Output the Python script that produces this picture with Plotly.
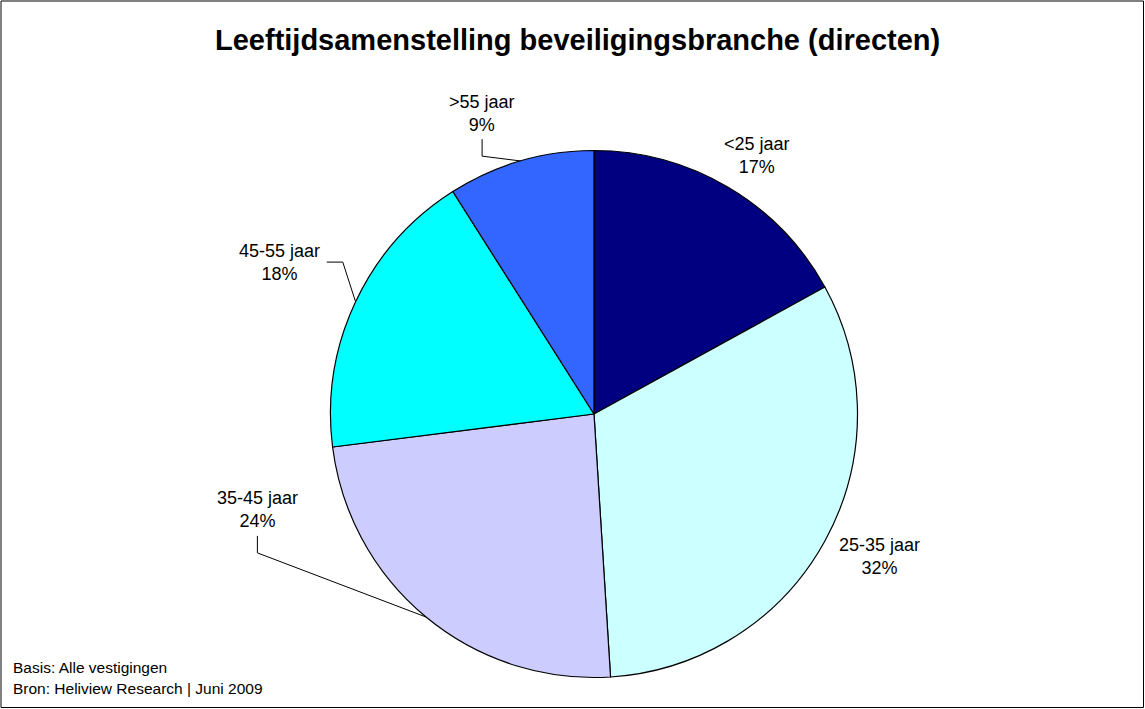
import math
import plotly.graph_objects as go

# ---- data ----
categories = ["<25 jaar", "25-35 jaar", "35-45 jaar", "45-55 jaar", ">55 jaar"]
values = [17, 32, 24, 18, 9]
title_text = "Leeftijdsamenstelling beveiligingsbranche (directen)"
footnotes = ["Basis: Alle vestigingen", "Bron: Heliview Research | Juni 2009"]

# ---- style ----
colors = ["#000080", "#CCFFFF", "#CCCCFF", "#00FFFF", "#3366FF"]
W, H = 1145, 709
CX, CY, R = 594, 414, 263.5           # pie centre / radius in pixels
# label placement: (distance from centre px, angle offset from slice middle deg, leader style)
label_place = [(306, 1.6, None), (319, -2.2, None), (350, 34.5, "below"),
               (349, 0.6, "right"), (321, -4.2, "below")]
FONT = "Liberation Sans, Arial, sans-serif"

def px(x):
    return x / W

def py(y):
    return 1 - y / H

def esc(s):
    return s.replace("<", "&lt;").replace(">", "&gt;")

fig = go.Figure(go.Pie(
    labels=categories, values=values, sort=False, direction="clockwise",
    rotation=0, textinfo="none", hoverinfo="label+percent",
    marker=dict(colors=colors, line=dict(color="#000000", width=1.2)),
    domain=dict(x=[px(CX - R), px(CX + R)], y=[py(CY + R), py(CY - R)]),
    showlegend=False,
))

total = sum(values)
annotations = []
shapes = []
cum = 0
for cat, v, (dist, dang, leader) in zip(categories, values, label_place):
    mid = (cum + v / 2) / total * 360
    cum += v
    a = math.radians(mid + dang)
    lx = CX + dist * math.sin(a)
    ly = CY - dist * math.cos(a)
    pct = round(v / total * 100)
    annotations.append(dict(
        x=px(lx), y=py(ly), xref="paper", yref="paper",
        text=f"{esc(cat)}<br>{pct}%", showarrow=False,
        xanchor="center", yanchor="middle", align="center",
        font=dict(family=FONT, size=18, color="#000000"),
    ))
    if leader:
        m = math.radians(mid)
        ex = CX + R * math.sin(m)
        ey = CY - R * math.cos(m)
        if leader == "below":
            p1 = (lx, ly + 26)
            p2 = (lx, ly + 43)
        else:
            p1 = (lx + 47, ly)
            p2 = (lx + 63, ly)
        path = (f"M {px(p1[0])},{py(p1[1])} L {px(p2[0])},{py(p2[1])} "
                f"L {px(ex)},{py(ey)}")
        shapes.append(dict(type="path", xref="paper", yref="paper", path=path,
                           line=dict(color="#000000", width=1)))

# chart frame
shapes.append(dict(type="rect", xref="paper", yref="paper",
                   x0=px(1), y0=py(707.5), x1=px(1143.5), y1=py(1),
                   line=dict(color="#000000", width=1), fillcolor="rgba(0,0,0,0)"))

annotations.append(dict(
    x=px(577), y=py(40), xref="paper", yref="paper", text=f"<b>{title_text}</b>",
    showarrow=False, xanchor="center", yanchor="middle",
    font=dict(family=FONT, size=29, color="#000000"),
))
for i, line in enumerate(footnotes):
    annotations.append(dict(
        x=px(11), y=py(667 + i * 21), xref="paper", yref="paper", text=line,
        showarrow=False, xanchor="left", yanchor="middle",
        font=dict(family=FONT, size=15.5, color="#000000"),
    ))

fig.update_layout(
    width=W, height=H, margin=dict(l=0, r=0, t=0, b=0),
    paper_bgcolor="#FFFFFF", plot_bgcolor="#FFFFFF",
    annotations=annotations, shapes=shapes,
)

fig.write_html("out.html",
               config={"displayModeBar": False},
               post_script="document.body.style.margin='0';"
                           "document.body.style.overflow='hidden';")
